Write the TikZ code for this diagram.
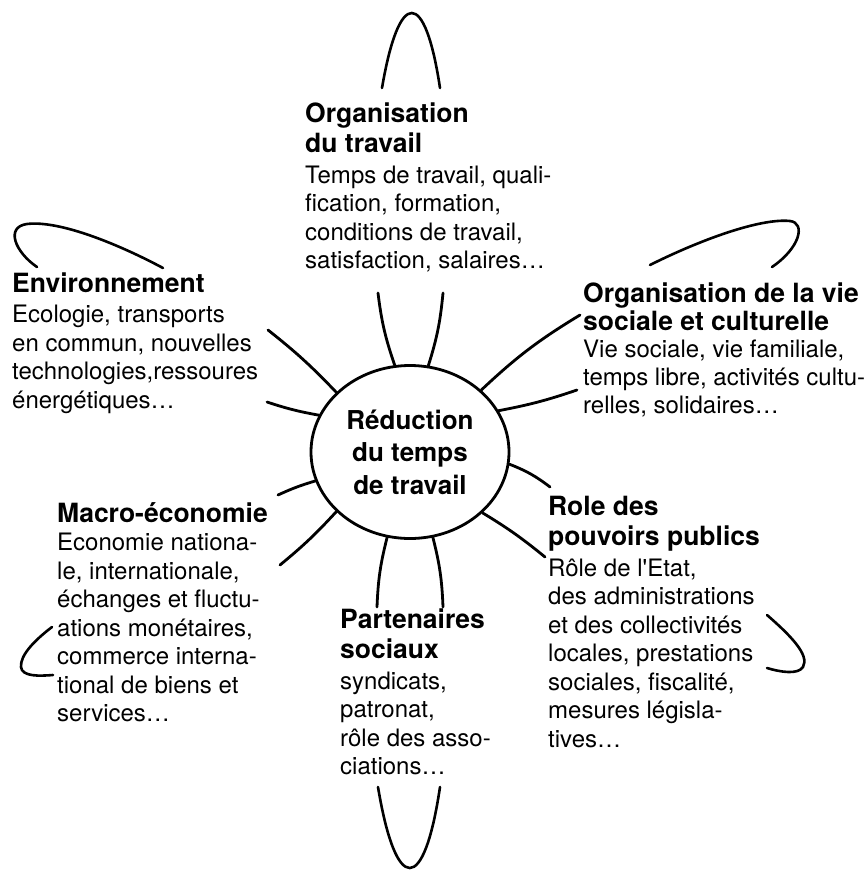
\documentclass[tikz,border=0pt]{standalone}
\usepackage{fontspec}
\setmainfont{TeX Gyre Heros}
\usetikzlibrary{shapes.geometric}

\newcommand{\hd}[1]{{\fontsize{26.5}{28.5}\selectfont\bfseries #1}}

\tikzset{
    ray/.style={line width=2.8pt, line cap=round},
    petal/.style={line width=2.6pt, line cap=round},
    blk/.style={anchor=base west, inner sep=0pt, font=\fontsize{24}{28.5}\selectfont},
}

\begin{document}
\begin{tikzpicture}[x=1pt, y=-1pt]
    \useasboundingbox (0,0) rectangle (867,870);

    \node[draw, ellipse, line width=2.8pt, minimum width=198pt, minimum height=173pt,
          inner sep=0pt, align=center, font=\fontsize{26}{32.5}\selectfont\bfseries]
          (rtt) at (410,452) {Réduction\\du temps\\de travail};

    \node[blk] (trav) at (305,122) {
        \begin{tabular}[t]{@{}l@{}}
            \hd{Organisation}\\[2pt]
            \hd{du travail}\\[2pt]
            Temps de travail, quali-\\
            fication, formation,\\
            conditions de travail,\\
            satisfaction, salaires\ldots
        \end{tabular}
    };
    \node[blk] (env) at (12,292) {
        \begin{tabular}[t]{@{}l@{}}
            \hd{Environnement}\\[2pt]
            Ecologie, transports\\
            en commun, nouvelles\\
            technologies,ressoures\\
            énergétiques\ldots
        \end{tabular}
    };
    \node[blk, font=\fontsize{24}{27.8}\selectfont] (vie) at (583,302) {
        \begin{tabular}[t]{@{}l@{}}
            \hd{Organisation de la vie}\\
            \hd{sociale et culturelle}\\
            Vie sociale, vie familiale,\\
            temps libre, activités cultu-\\
            relles, solidaires\ldots
        \end{tabular}
    };
    \node[blk] (macro) at (57,522) {
        \begin{tabular}[t]{@{}l@{}}
            \hd{Macro-économie}\\
            Economie nationa-\\
            le, internationale,\\
            échanges et fluctu-\\
            ations monétaires,\\
            commerce interna-\\
            tional de biens et\\
            services\ldots
        \end{tabular}
    };
    \node[blk] (pouv) at (548,515) {
        \begin{tabular}[t]{@{}l@{}}
            \hd{Role des}\\[2pt]
            \hd{pouvoirs publics}\\[2pt]
            Rôle de l\textquotesingle Etat,\\
            des administrations\\
            et des collectivités\\
            locales, prestations\\
            sociales, fiscalité,\\
            mesures législa-\\
            tives\ldots
        \end{tabular}
    };
    \node[blk] (part) at (340,628) {
        \begin{tabular}[t]{@{}l@{}}
            \hd{Partenaires}\\[2pt]
            \hd{sociaux}\\[2pt]
            syndicats,\\
            patronat,\\
            rôle des asso-\\
            ciations\ldots
        \end{tabular}
    };

    % bouts des rayons
    \coordinate (trA) at (378,293);
    \coordinate (trB) at (443,293);
    \coordinate (viA) at (580,315);
    \coordinate (viB) at (577,390);
    \coordinate (poA) at (550,487);
    \coordinate (poB) at (545,557);
    \coordinate (paA) at (443,607);
    \coordinate (paB) at (377,607);
    \coordinate (maA) at (278,495);
    \coordinate (maB) at (280,565);
    \coordinate (enA) at (268,330);
    \coordinate (enB) at (267,402);

    \foreach \a/\e/\b in {100/trA/6, 78/trB/-6, 41/viA/6, 25/viB/-4,
                          353/poA/8, 320/poB/4, 285/paA/6, 255/paB/-6,
                          197/maA/-4, 219/maB/4, 141/enA/-4, 158/enB/4}
        \draw[ray] (rtt.\a) to[bend left=\b] (\e);

    % boucles
    \draw[petal] (382,88) .. controls (399,-12) and (425,-12) .. (440,88);
    \draw[petal] (378,787) .. controls (396,895) and (424,895) .. (440,787);
    \draw[petal] (650,265) .. controls (700,240) and (760,218) .. (790,221)
                 .. controls (806,223) and (800,248) .. (772,267);
    \draw[petal] (163,268) .. controls (120,245) and (60,220) .. (27,224)
                 .. controls (5,227) and (15,252) .. (37,267);
    \draw[petal] (767,615) .. controls (790,635) and (810,655) .. (803,667)
                 .. controls (798,675) and (780,672) .. (767,668);
    \draw[petal] (52,627) .. controls (35,640) and (20,655) .. (21,667)
                 .. controls (22,677) and (40,676) .. (53,675);
\end{tikzpicture}
\end{document}
